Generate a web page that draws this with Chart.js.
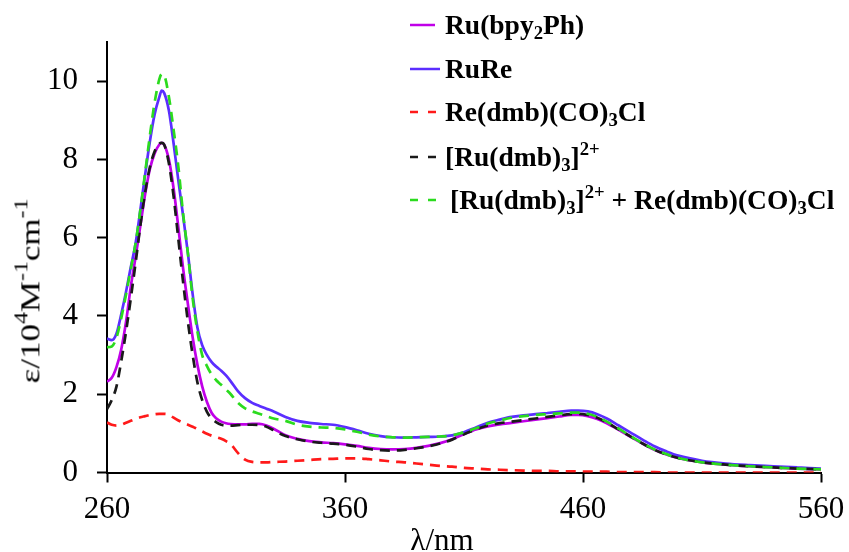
<!DOCTYPE html>
<html><head><meta charset="utf-8">
<script src="https://cdn.jsdelivr.net/npm/chart.js@4"></script>
<style>
html,body{margin:0;padding:0;background:#fff;}
#wrap{position:relative;width:849px;height:552px;overflow:hidden;background:#fff;}
#c{position:absolute;left:0;top:0;}
.lgrow{position:absolute;left:410px;height:27px;white-space:nowrap;}
.lgrow svg{position:absolute;left:0;top:0;}
.lgtext{position:absolute;top:0;font:bold 27.5px 'Liberation Serif','Times New Roman',serif;line-height:27px;color:#000;white-space:nowrap;}
.lgtext sub,.lgtext sup,.ytitle sup{font-size:0.68em;line-height:0;}
.lgtext sub{vertical-align:-0.28em;}
.lgtext sup,.ytitle sup{vertical-align:0.6em;}
.ytitle{position:absolute;left:30px;top:291px;font:35px 'Liberation Serif','Times New Roman',serif;line-height:35px;white-space:nowrap;color:#000;transform:translate(-50%,-50%) rotate(-90deg) scale(1,0.8);}
.xtitle{position:absolute;left:442px;top:524px;font:31px 'Liberation Serif','Times New Roman',serif;line-height:31px;white-space:nowrap;color:#000;transform:translateX(-50%);}
</style>
</head><body>
<div id="wrap">
<canvas id="c" width="849" height="552"></canvas>
<div class="ytitle" id="ytitle"></div>
<div class="xtitle" id="xtitle"></div>
<div id="legend"></div>
</div>
<script>
// ---- data ----
const wavelengths = [260,262,264,266,268,270,272,274,276,278,280,282,283,284,286,288,290,292,294,296,298,300,302,304,306,308,310,312,315,318,321,324,327,330,335,340,345,350,355,360,365,370,375,380,385,390,395,400,405,410,415,420,425,430,435,440,445,450,455,458,462,466,470,475,480,485,490,495,500,510,520,530,540,550,560];
const ruBpy2Ph = [2.32,2.42,2.7,3.15,3.85,4.75,5.5,6.3,7.1,7.75,8.15,8.38,8.42,8.38,8.0,7.25,6.25,5.2,4.3,3.45,2.75,2.2,1.8,1.52,1.38,1.3,1.26,1.24,1.23,1.23,1.24,1.24,1.2,1.12,0.95,0.86,0.8,0.77,0.75,0.72,0.68,0.63,0.6,0.59,0.6,0.63,0.68,0.75,0.85,0.98,1.1,1.18,1.23,1.27,1.31,1.35,1.39,1.43,1.47,1.47,1.44,1.37,1.26,1.09,0.91,0.74,0.58,0.46,0.37,0.26,0.2,0.16,0.13,0.1,0.08];
const ruRe = [3.42,3.38,3.55,4.05,4.62,5.25,5.85,6.7,7.6,8.45,9.15,9.6,9.76,9.7,9.25,8.4,7.45,6.55,5.6,4.55,3.7,3.25,3.0,2.82,2.7,2.6,2.48,2.33,2.08,1.9,1.78,1.7,1.63,1.56,1.42,1.32,1.27,1.24,1.22,1.16,1.08,0.99,0.93,0.9,0.89,0.9,0.91,0.92,0.95,1.03,1.15,1.27,1.35,1.42,1.46,1.49,1.52,1.55,1.58,1.58,1.56,1.49,1.38,1.2,1.02,0.84,0.67,0.54,0.43,0.3,0.23,0.19,0.16,0.13,0.1];
const reDmbCO3Cl = [1.28,1.22,1.2,1.22,1.27,1.32,1.37,1.41,1.44,1.47,1.49,1.5,1.5,1.5,1.48,1.4,1.33,1.27,1.22,1.17,1.11,1.05,0.99,0.94,0.9,0.86,0.8,0.72,0.5,0.33,0.27,0.26,0.26,0.27,0.28,0.3,0.32,0.34,0.35,0.36,0.36,0.34,0.31,0.28,0.26,0.23,0.2,0.17,0.15,0.12,0.1,0.08,0.07,0.06,0.05,0.04,0.04,0.03,0.03,0.03,0.02,0.02,0.02,0.01,0.01,0.01,0.01,0.0,0.0,0.0,0.0,0.0,0.0,0.0,0.0];
const ruDmb3 = [1.62,1.85,2.2,2.85,3.6,4.45,5.35,6.3,7.15,7.8,8.2,8.4,8.42,8.38,7.9,7.05,5.95,4.85,3.85,3.0,2.3,1.85,1.55,1.38,1.28,1.22,1.2,1.2,1.21,1.22,1.22,1.21,1.17,1.08,0.93,0.85,0.79,0.76,0.74,0.71,0.66,0.6,0.57,0.56,0.58,0.62,0.67,0.74,0.84,0.98,1.1,1.2,1.26,1.3,1.34,1.38,1.42,1.46,1.49,1.5,1.47,1.4,1.28,1.1,0.92,0.74,0.58,0.46,0.37,0.26,0.2,0.16,0.13,0.1,0.08];
const sumRuDmbRe = [3.2,3.22,3.45,3.95,4.55,5.2,5.85,6.7,7.65,8.6,9.45,10.05,10.18,10.15,9.6,8.75,7.8,6.6,5.6,4.45,3.6,3.0,2.72,2.5,2.35,2.24,2.12,2.0,1.78,1.64,1.56,1.5,1.44,1.38,1.32,1.22,1.17,1.15,1.14,1.1,1.04,0.97,0.92,0.9,0.89,0.9,0.91,0.92,0.95,1.03,1.13,1.25,1.33,1.4,1.44,1.47,1.49,1.51,1.53,1.53,1.5,1.42,1.3,1.12,0.93,0.75,0.59,0.47,0.37,0.26,0.2,0.16,0.13,0.1,0.08];
const seriesNames = ['Ru(bpy<sub>2</sub>Ph)','RuRe','Re(dmb)(CO)<sub>3</sub>Cl','[Ru(dmb)<sub>3</sub>]<sup>2+</sup>','[Ru(dmb)<sub>3</sub>]<sup>2+</sup> + Re(dmb)(CO)<sub>3</sub>Cl'];
const xTickValues = [260,360,460,560];
const yTickValues = [0,2,4,6,8,10];
const xAxisTitle = 'λ/nm';
const yAxisTitle = 'ε/10<sup>4</sup>M<sup>-1</sup>cm<sup>-1</sup>';

// ---- styles ----
const seriesValues = [ruBpy2Ph, ruRe, reDmbCO3Cl, ruDmb3, sumRuDmbRe];
const colors = ['#C000E8','#5B2EFF','#FF1A1A','#1a1a1a','#2BDB1E'];
const dashes = [[],[],[10,7],[10,7],[10,7]];
const drawOrder = [4,3,2,1,0];
const legendY = [25,69,112,157,200];
const legendTextX = [35,35,35,35,40];
const legendLineW = [25,30,26,26,28];

const datasets = seriesValues.map((vals,k)=>({
  label: seriesNames[k].replace(/<[^>]+>/g,''),
  data: wavelengths.map((w,i)=>({x:w,y:vals[i]})),
  borderColor: colors[k],
  borderWidth: 2.7,
  borderDash: dashes[k],
  pointRadius: 0,
  fill: false,
  cubicInterpolationMode: 'monotone',
  order: drawOrder[k]
}));

const tickFont = {family:"'Liberation Serif','Times New Roman',serif", size:31};
new Chart(document.getElementById('c'), {
  type: 'line',
  data: {datasets},
  options: {
    responsive:false, animation:false, devicePixelRatio:1,
    layout:{padding:{left:0,top:42,right:28,bottom:0}},
    plugins:{legend:{display:false}, tooltip:{enabled:false}},
    scales:{
      x:{type:'linear', min:260, max:560,
        afterBuildTicks:s=>{s.ticks = xTickValues.map(v=>({value:v}));},
        afterFit:s=>{s.height = 79.5; s.paddingLeft = 0; s.paddingRight = 0;},
        ticks:{font:tickFont, color:'#000', padding:9, maxRotation:0, autoSkip:false},
        grid:{display:true, drawOnChartArea:false, drawTicks:true, tickLength:10, tickWidth:2, tickColor:'#000'},
        border:{display:true, color:'#000', width:2}
      },
      y:{type:'linear', min:0, max:11,
        afterBuildTicks:s=>{s.ticks = yTickValues.map(v=>({value:v}));},
        afterFit:s=>{s.width = 107; s.paddingTop = 0; s.paddingBottom = 0;},
        ticks:{font:tickFont, color:'#000', padding:19},
        grid:{display:true, drawOnChartArea:false, drawTicks:true, tickLength:10, tickWidth:2, tickColor:'#000'},
        border:{display:true, color:'#000', width:2}
      }
    }
  }
});

document.getElementById('xtitle').innerHTML = xAxisTitle;
document.getElementById('ytitle').innerHTML = yAxisTitle;

const lg = document.getElementById('legend');
seriesNames.forEach((name,k)=>{
  const row = document.createElement('div');
  row.className = 'lgrow';
  row.style.top = (legendY[k]-14) + 'px';
  const w = legendLineW[k];
  const dash = dashes[k].length ? 'stroke-dasharray="8 10"' : '';
  row.innerHTML = '<svg width="'+(w+2)+'" height="27"><line x1="0" y1="14" x2="'+w+'" y2="14" stroke="'+colors[k]+'" stroke-width="2.5" '+dash+'/></svg>' +
    '<div class="lgtext" style="left:'+legendTextX[k]+'px">'+name+'</div>';
  lg.appendChild(row);
});
</script>
</body></html>
